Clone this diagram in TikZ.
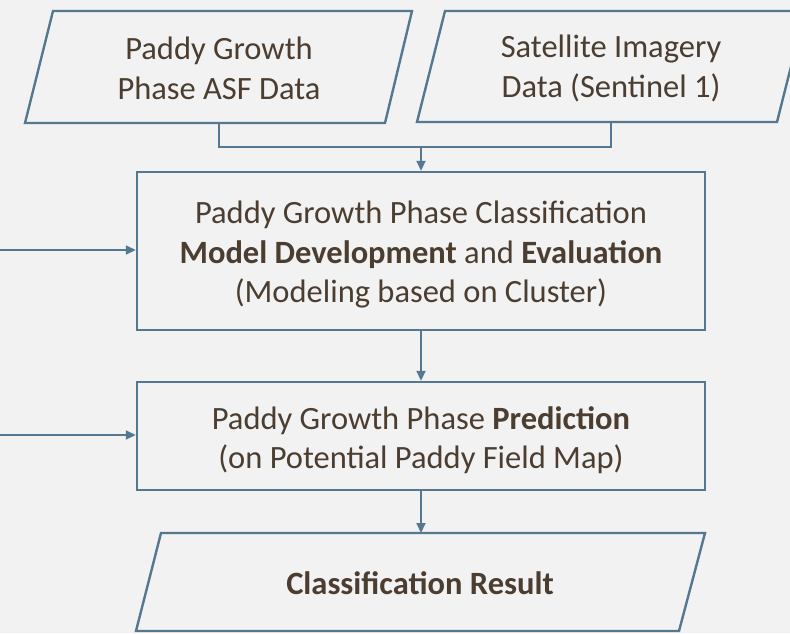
\documentclass[tikz,border=0pt]{standalone}
\usepackage{fontspec}
\setmainfont{Carlito}
\usetikzlibrary{arrows.meta}
\definecolor{bg}{HTML}{F2F2F2}
\definecolor{ln}{HTML}{53788F}
\definecolor{tx}{HTML}{4B3D30}
\begin{document}
\begin{tikzpicture}[x=1pt,y=-1pt,
  shapeline/.style={draw=ln,line width=2.4pt,line join=miter},
  conn/.style={draw=ln,line width=1.8pt},
  arr/.style={conn,-{Triangle[length=10pt,width=9pt]}},
  lbl/.style={text=tx,font=\fontsize{32.5}{39.5}\selectfont,align=center,inner sep=0pt}]
\fill[bg] (0,0) rectangle (790,633);
\useasboundingbox (0,0) rectangle (790,633);
% input parallelograms
\draw[shapeline] (53,11) -- (412,11) -- (385,123) -- (25,123) -- cycle;
\draw[shapeline] (445,11) -- (805,11) -- (777,122) -- (417,122) -- cycle;
\node[lbl] (a) at (219,68.5) {Paddy Growth\\Phase ASF Data};
\node[lbl] (b) at (611,68.5) {Satellite Imagery\\Data (Sentinel 1)};
\coordinate (p1b) at (219,123);
\coordinate (p2b) at (611,122);
\coordinate (j) at (421,147);
% boxes
\node[shapeline,minimum width=568pt,minimum height=158pt,inner sep=0pt] (m) at (421,251) {};
\node[lbl] (mt) at (421,255)
  {Paddy Growth Phase Classification\\\textbf{Model Development} and \textbf{Evaluation}\\(Modeling based on Cluster)};
\node[shapeline,minimum width=568pt,minimum height=108pt,inner sep=0pt] (p) at (421,436) {};
\node[lbl] (pt) at (421,440)
  {Paddy Growth Phase \textbf{Prediction}\\(on Potential Paddy Field Map)};
% result parallelogram
\draw[shapeline] (161,533) -- (705,533) -- (679,631) -- (136,631) -- cycle;
\node[lbl] (r) at (420,583) {\textbf{Classification Result}};
\coordinate (rt) at (421,533);
% connectors
\draw[conn] (p1b) -- (p1b |- j) -- (p2b |- j) -- (p2b);
\draw[arr] (j) -- (m.north);
\draw[arr] (m.south) -- (p.north);
\draw[arr] (p.south) -- (rt);
\coordinate (l1) at (0,250);
\coordinate (l2) at (0,435);
\draw[arr] (l1) -- (l1 -| m.west);
\draw[arr] (l2) -- (l2 -| p.west);
\end{tikzpicture}
\end{document}
